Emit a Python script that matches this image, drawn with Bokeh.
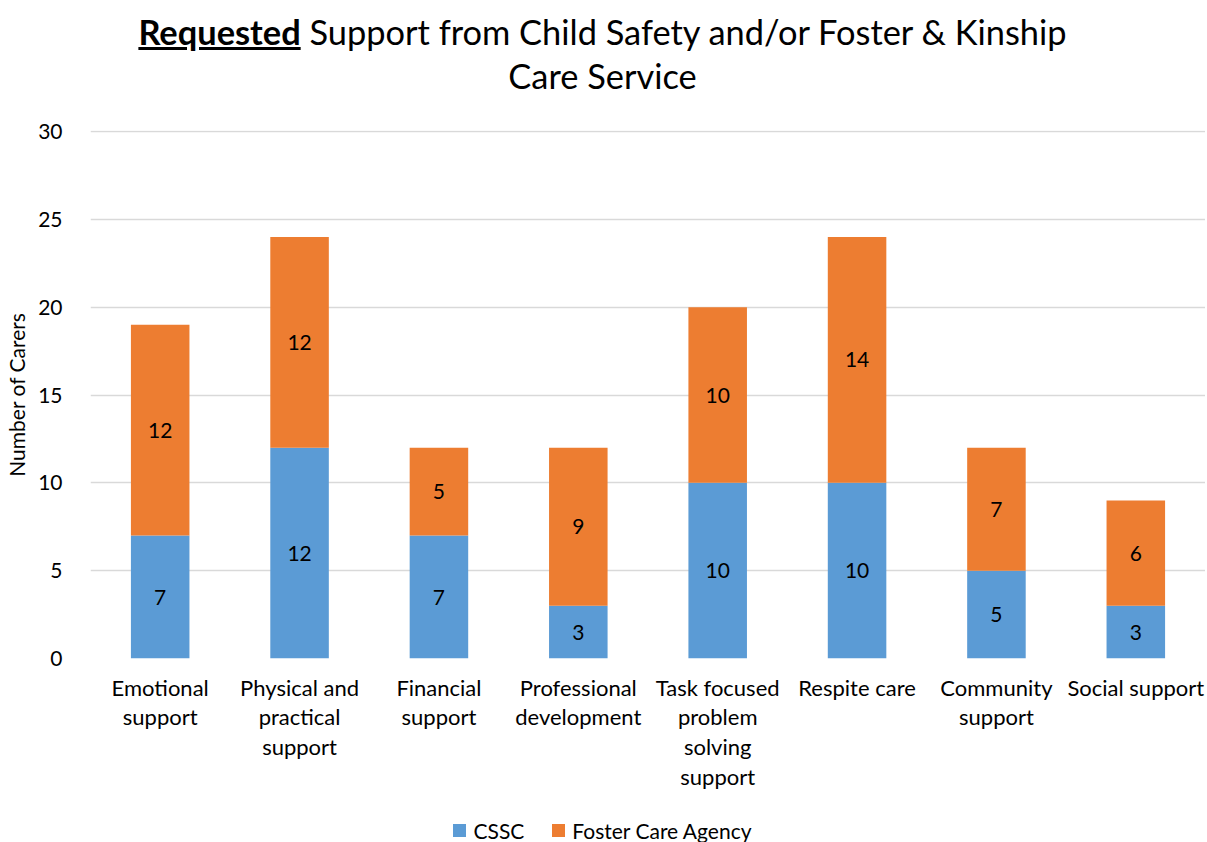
from bokeh.plotting import figure
from bokeh.models import (ColumnDataSource, FactorRange, Range1d, LabelSet, Div)
from bokeh.layouts import column
from bokeh.core.properties import value
from bokeh.embed import file_html
from bokeh.resources import INLINE

categories = ["Emotional\nsupport", "Physical and\npractical\nsupport", "Financial\nsupport",
              "Professional\ndevelopment", "Task focused\nproblem\nsolving\nsupport",
              "Respite care", "Community\nsupport", "Social support"]
cssc = [7, 12, 7, 3, 10, 10, 5, 3]
foster_agency = [12, 12, 5, 9, 10, 14, 7, 6]
series_names = ["CSSC", "Foster Care Agency"]
colors = ["#5B9BD5", "#ED7D31"]
y_ticks = [0, 5, 10, 15, 20, 25, 30]
title_bold = "Requested"
title_rest = "Support from Child Safety and/or Foster &amp; Kinship"
title_line2 = "Care Service"

FONT = "Lato"
W = 1205

source = ColumnDataSource(dict(
    cat=categories,
    cssc=cssc,
    fca=foster_agency,
    cssc_mid=[v / 2 for v in cssc],
    fca_mid=[a + b / 2 for a, b in zip(cssc, foster_agency)],
    cssc_txt=[str(v) for v in cssc],
    fca_txt=[str(v) for v in foster_agency],
))

DIV_H = 100
LEG_H = 24
FIG_H = 840 - DIV_H - LEG_H
title = Div(text=(f'<div style="width:{W}px;text-align:center;font-family:{FONT};'
                  f'font-size:34.4px;line-height:44px;color:#000;padding-top:10px;">'
                  f'<b><u>{title_bold}</u></b> {title_rest}<br>{title_line2}</div>'),
            width=W, height=DIV_H, margin=0)

p = figure(x_range=FactorRange(*categories), y_range=Range1d(0, 30.06),
           width=W, height=FIG_H, output_backend="svg", toolbar_location=None,
           min_border_left=90, min_border_right=0, min_border_top=30,
           min_border_bottom=FIG_H - 30 - 528, margin=0)
p.outline_line_color = None

r = p.vbar_stack(["cssc", "fca"], x="cat", width=0.42, source=source,
                 color=colors, line_color=None, legend_label=series_names)
p.legend.visible = False

for col, txt in [("cssc_mid", "cssc_txt"), ("fca_mid", "fca_txt")]:
    p.add_layout(LabelSet(x="cat", y=col, text=txt, source=source,
                          text_align="center", text_baseline="middle",
                          text_font=value(FONT), text_font_size="21px", text_color="#000000"))

p.yaxis.ticker = y_ticks
p.yaxis.axis_label = "Number of Carers"
p.yaxis.axis_label_text_font = FONT
p.yaxis.axis_label_text_font_size = "21px"
p.yaxis.axis_label_text_font_style = "normal"
p.yaxis.axis_label_text_color = "#000000"
p.yaxis.axis_label_standoff = 6
p.yaxis.major_label_text_font = FONT
p.yaxis.major_label_text_font_size = "21px"
p.yaxis.major_label_text_color = "#000000"
p.yaxis.major_label_standoff = 22
p.yaxis.axis_line_color = None
p.yaxis.major_tick_line_color = None
p.yaxis.minor_tick_line_color = None

p.xaxis.major_label_text_font = FONT
p.xaxis.major_label_text_font_size = "22px"
p.xaxis.major_label_text_color = "#000000"
p.xaxis.major_label_text_line_height = 1.1
p.xaxis.major_label_standoff = 9
p.xaxis.axis_line_color = None
p.xaxis.major_tick_line_color = None

p.xgrid.grid_line_color = None
p.ygrid.grid_line_color = "#D9D9D9"
p.ygrid.grid_line_width = 1.5

sq = 'display:inline-block;width:13px;height:13px;vertical-align:middle;margin-right:7px;'
legend_items = "".join(
    f'<span style="margin:0 14px;white-space:nowrap;"><span style="{sq}background:{c};"></span>'
    f'<span style="vertical-align:middle;">{n}</span></span>'
    for n, c in zip(series_names, colors))
legend_div = Div(text=(f'<div style="width:{W - 4}px;text-align:center;font-family:{FONT};'
                       f'font-size:21px;line-height:{LEG_H}px;color:#000;padding-left:4px;">'
                       f'{legend_items}</div>'),
                 width=W, height=LEG_H, margin=0)

layout = column(title, p, legend_div, spacing=0, margin=0)
open("out.html", "w").write(file_html(layout, INLINE))
